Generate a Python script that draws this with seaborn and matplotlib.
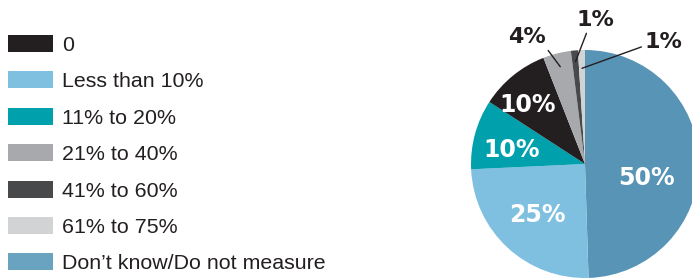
import matplotlib
matplotlib.use("Agg")
import matplotlib.pyplot as plt
import seaborn as sns
import numpy as np

# legend order
categories = ["0", "Less than 10%", "11% to 20%", "21% to 40%",
              "41% to 60%", "61% to 75%", "Don\u2019t know/Do not measure"]
shares = [10, 25, 10, 4, 1, 1, 50]
colors = ["#231f20", "#7fbfdf", "#00a1ad", "#a7a9ac",
          "#48494b", "#d1d3d4", "#5794b5"]
legend_colors = colors[:-1] + ["#69a3c0"]
# clockwise order of slices from 12 o'clock
pie_order = [6, 1, 2, 0, 3, 4, 5]

sns.set_theme(style="white")
plt.rcParams["font.family"] = ["Liberation Sans", "DejaVu Sans"]

W, H = 692, 279
fig = plt.figure(figsize=(W / 100, H / 100), dpi=100)

# pie axes: centre (585, 164) px from top-left, radius 114 px
cx, cy, r = 585, 164, 114
ax = fig.add_axes([(cx - r) / W, (H - cy - r) / H, 2 * r / W, 2 * r / H])

vals = [shares[i] for i in pie_order]
cols = [colors[i] for i in pie_order]
wedges, _ = ax.pie(vals, colors=cols, startangle=90, counterclock=False,
                   radius=1, wedgeprops=dict(linewidth=0))
ax.set_xlim(-1, 1)
ax.set_ylim(-1, 1)
ax.axis("off")

# inside labels: (radius, angle shift in degrees from wedge middle)
inside = {6: (0.55, -11.5), 1: (0.60, -1.6), 2: (0.655, 2.7), 0: (0.74, 4.0)}
# outside labels: text position, leader tip radius, leader start on text
outside = {3: ((-0.51, 1.13), 0.88, (1, 0)),
           4: ((0.09, 1.28), 0.90, (0.3, 0)),
           5: ((0.69, 1.09), 0.84, (0, 0.3))}
lab_font = ["DejaVu Sans"]
for w, idx in zip(wedges, pie_order):
    mid = (w.theta1 + w.theta2) / 2
    label = f"{shares[idx]}%"
    if idx in inside:
        rr, shift = inside[idx]
        a = np.deg2rad(mid + shift)
        ax.text(rr * np.cos(a), rr * np.sin(a), label, color="white",
                fontsize=17, fontweight="bold", family=lab_font,
                ha="center", va="center_baseline", clip_on=False)
    else:
        pos, rr, rel = outside[idx]
        a = np.deg2rad(mid)
        ax.annotate(label, xy=(rr * np.cos(a), rr * np.sin(a)),
                    xytext=pos, textcoords="data", family=lab_font,
                    fontsize=16, fontweight="bold", color="#231f20",
                    ha="center", va="center_baseline", annotation_clip=False,
                    arrowprops=dict(arrowstyle="-", color="#231f20", lw=1,
                                    relpos=rel, shrinkA=0, shrinkB=0))

handles = [plt.Rectangle((0, 0), 1, 1, color=c, lw=0) for c in legend_colors]
fig.legend(handles, categories, loc="upper left",
           bbox_to_anchor=(8 / W, 1 - 35 / H), frameon=False,
           fontsize=15.4, handlelength=2.1, handleheight=0.85,
           handletextpad=0.42, labelspacing=0.77, borderpad=0,
           borderaxespad=0, labelcolor="#231f20")

fig.savefig("out.png", dpi=100)
